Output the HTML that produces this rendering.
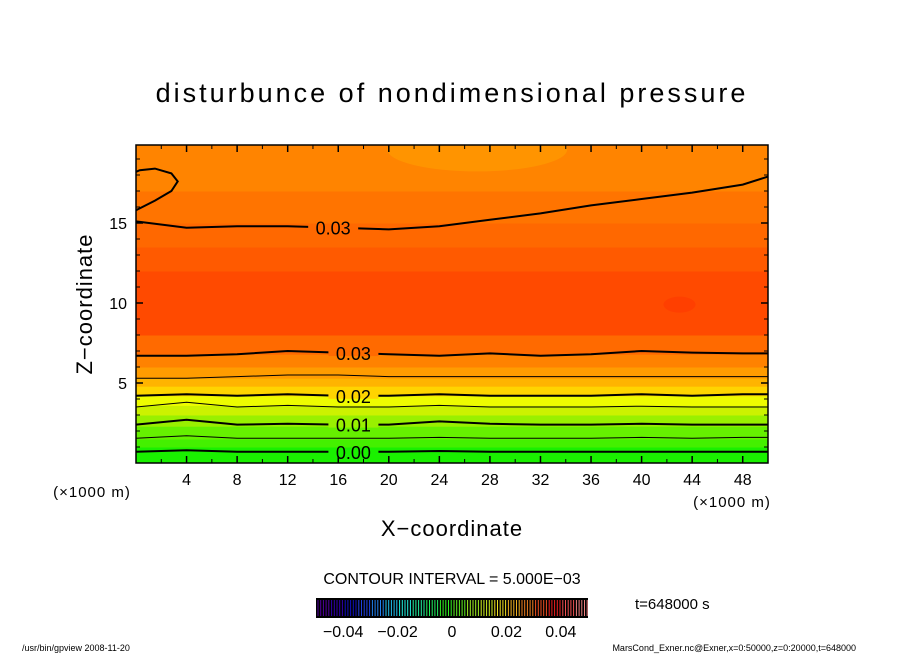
<!DOCTYPE html>
<html><head><meta charset="utf-8"><style>
body{margin:0;background:#fff;}
svg text{font-family:"Liberation Sans",sans-serif;}
</style></head><body>
<svg id="c" width="904" height="654" xmlns="http://www.w3.org/2000/svg">
<defs><clipPath id="clip"><rect x="136" y="145" width="632" height="318"/></clipPath></defs>
<text x="452" y="102" font-size="27" text-anchor="middle" letter-spacing="3">disturbunce of nondimensional pressure</text>
<g id="plot" clip-path="url(#clip)"></g>
<g id="lines" clip-path="url(#clip)"></g>
<rect x="136" y="145" width="632" height="318" fill="none" stroke="#000" stroke-width="1.5"/>
<g id="axes"></g>
<text x="92" y="497" font-size="15" text-anchor="middle" letter-spacing="1">(×1000 m)</text>
<text x="732" y="507" font-size="15" text-anchor="middle" letter-spacing="1">(×1000 m)</text>
<text x="452" y="536" font-size="22" text-anchor="middle" letter-spacing="1">X−coordinate</text>
<text x="0" y="0" font-size="22" text-anchor="middle" letter-spacing="1" transform="translate(92,304) rotate(-90)">Z−coordinate</text>
<text x="452" y="584" font-size="16" text-anchor="middle">CONTOUR INTERVAL = 5.000E−03</text>
<g id="cbar"></g>
<text x="635" y="609" font-size="15">t=648000 s</text>
<text x="22" y="651" font-size="9">/usr/bin/gpview   2008-11-20</text>
<text x="856" y="651" font-size="9" text-anchor="end">MarsCond_Exner.nc@Exner,x=0:50000,z=0:20000,t=648000</text>
</svg>
<script>
const xTicks=[4,8,12,16,20,24,28,32,36,40,44,48];
const yTicks=[5,10,15];
const bandEdges=[0,1,1.5,2.3,3,3.6,4.2,4.8,5.3,6,6.8,8,12,13.5,15,17,20];
const bandColors=["#1af000","#44f000","#66f000","#99f000","#ccf200","#eefc00","#ffd400","#ffb400","#ff9c00","#ff8200","#ff6a00","#ff4a00","#ff5a00","#ff6800","#ff7400","#ff8400"];
const lineX=[0,4,8,12,16,20,24,28,32,36,40,44,48,50];
const line000=[0.7,0.8,0.7,0.7,0.7,0.7,0.75,0.7,0.7,0.7,0.7,0.7,0.7,0.7];
const line005=[1.55,1.7,1.55,1.55,1.55,1.55,1.6,1.55,1.55,1.55,1.6,1.55,1.6,1.6];
const line010=[2.4,2.7,2.4,2.45,2.4,2.4,2.6,2.45,2.4,2.4,2.45,2.4,2.4,2.4];
const line015=[3.5,3.8,3.5,3.6,3.5,3.5,3.6,3.5,3.5,3.5,3.55,3.5,3.5,3.5];
const line020=[4.2,4.3,4.2,4.3,4.2,4.2,4.3,4.2,4.2,4.2,4.3,4.2,4.3,4.3];
const line025=[5.3,5.3,5.4,5.5,5.5,5.4,5.4,5.4,5.4,5.4,5.4,5.4,5.4,5.4];
const line030a=[6.7,6.7,6.8,7.0,6.9,6.8,6.7,6.85,6.7,6.8,7.0,6.9,6.85,6.85];
const line030b=[15.1,14.7,14.8,14.8,14.7,14.6,14.8,15.2,15.6,16.1,16.5,16.9,17.4,17.9];
const loopX=[0,1.5,2.8,3.3,2.8,1.5,0.3,0];
const loopZ=[15.8,16.4,17.0,17.6,18.1,18.4,18.3,18.2];
const cbarLevels=[-0.05,-0.045,-0.04,-0.035,-0.03,-0.025,-0.02,-0.015,-0.01,-0.005,0,0.005,0.01,0.015,0.02,0.025,0.03,0.035,0.04,0.045];
const cbarTicks=[-0.04,-0.02,0,0.02,0.04];
const cbarTickLabels=["−0.04","−0.02","0","0.02","0.04"];
const NS="http://www.w3.org/2000/svg";
const X=v=>136+v*632/50, Z=v=>463-v*318/19.875;
function mk(t,a,p){const e=document.createElementNS(NS,t);for(const k in a)e.setAttribute(k,a[k]);p.appendChild(e);return e;}
function bandAt(z){for(let i=0;i<bandColors.length;i++)if(z>=bandEdges[i]&&z<bandEdges[i+1])return bandColors[i];return bandColors[bandColors.length-1];}
const plot=document.getElementById('plot');
for(let i=0;i<bandColors.length;i++){
 const r=mk('rect',{x:136,y:Z(bandEdges[i+1]),width:632,height:Z(bandEdges[i])-Z(bandEdges[i+1])+0.5,fill:bandColors[i]},plot);
 
 
}
const blob=mk('ellipse',{cx:X(27),cy:Z(19.6),rx:90,ry:22,fill:"#ff9400"},plot);


const spot=mk('ellipse',{cx:X(43),cy:Z(9.9),rx:16,ry:8,fill:"#ff3f00"},plot);


const lines=document.getElementById('lines');
function line(zs,w,label,lx){
 const pts=lineX.map((x,i)=>X(x)+','+Z(zs[i])).join(' ');
 const p=mk('polyline',{points:pts,fill:'none',stroke:'#000','stroke-width':w},lines);
 
 
 if(label){
  let zi=zs[0];for(let i=0;i<lineX.length-1;i++)if(lineX[i]<=lx&&lineX[i+1]>=lx)zi=zs[i]+(zs[i+1]-zs[i])*(lx-lineX[i])/(lineX[i+1]-lineX[i]);
  const y=Z(zi);
  mk('rect',{x:X(lx)-25,y:y-3,width:50,height:6,fill:bandAt(zi)},lines);
  const t=mk('text',{x:X(lx),y:y+7,'font-size':18,'text-anchor':'middle',fill:'#000'},lines);
  t.textContent=label;
  
  
 }
}
line(line000,2,"0.00",17.2);
line(line005,1,null);
line(line010,2,"0.01",17.2);
line(line015,1,null);
line(line020,2,"0.02",17.2);
line(line025,1,null);
line(line030a,2,"0.03",17.2);
line(line030b,2,"0.03",15.6);
const lp=mk('polyline',{points:loopX.map((x,i)=>X(x)+','+Z(loopZ[i])).join(' '),fill:'none',stroke:'#000','stroke-width':2},lines);


const ax=document.getElementById('axes');
xTicks.forEach(v=>{
 mk('line',{x1:X(v),x2:X(v),y1:463,y2:456,stroke:'#000','stroke-width':1.5},ax);
 mk('line',{x1:X(v),x2:X(v),y1:145,y2:152,stroke:'#000','stroke-width':1.5},ax);
 const t=mk('text',{x:X(v),y:485,'font-size':16,'text-anchor':'middle'},ax);t.textContent=v;
 
 
});
for(let v=2;v<50;v+=2){if(v%4){mk('line',{x1:X(v),x2:X(v),y1:463,y2:459,stroke:'#000'},ax);mk('line',{x1:X(v),x2:X(v),y1:145,y2:149,stroke:'#000'},ax);}}
for(let v=1;v<20;v++){const L=v%5?4:7;mk('line',{x1:136,x2:136+L,y1:Z(v),y2:Z(v),stroke:'#000','stroke-width':v%5?1:1.5},ax);mk('line',{x1:768,x2:768-L,y1:Z(v),y2:Z(v),stroke:'#000','stroke-width':v%5?1:1.5},ax);}
yTicks.forEach(v=>{
 const t=mk('text',{x:127,y:Z(v)+6,'font-size':16,'text-anchor':'end'},ax);t.textContent=v;
 
 
});
const cb=document.getElementById('cbar');
const C=v=>452+v*2720;
mk('rect',{x:316,y:598,width:272,height:20,fill:'#000'},cb);
const cmap=["#5000a0","#3000b0","#1010c0","#2040e0","#2080f0","#20c0f0","#20f0e0","#20f0a0","#20f060","#30f020","#60f020","#a0f020","#d0f020","#f0e020","#f0b020","#f08020","#f05020","#f02020","#f05050","#f08080"];
cbarLevels.forEach((v,i)=>{
 for(let k=0;k<5;k++){
  const s=mk('line',{x1:C(v)+2+k*2.7,x2:C(v)+2+k*2.7,y1:600,y2:616,stroke:cmap[i],'stroke-width':1},cb);
  if(k===0){}
 }
});
cbarTicks.forEach((v,i)=>{
 const t=mk('text',{x:C(v),y:637,'font-size':16,'text-anchor':'middle'},cb);t.textContent=cbarTickLabels[i];
 
 
});
</script>
</body></html>
